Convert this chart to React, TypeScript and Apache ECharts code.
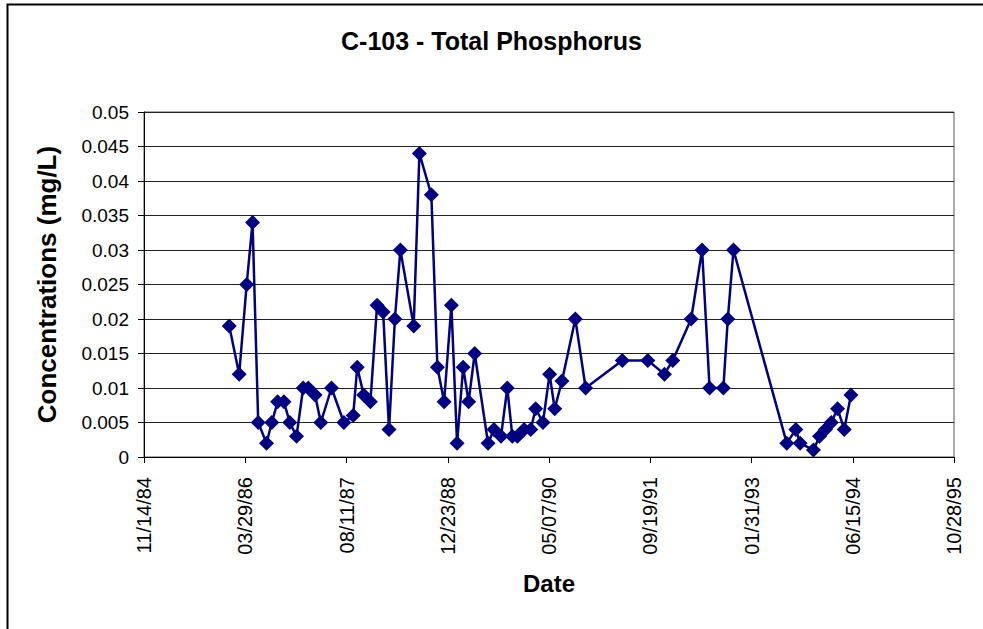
import React, { useEffect, useRef } from "react";
import * as echarts from "echarts";

const sampleDates: string[] = [
  "1986-01-09", "1986-02-27", "1986-04-05", "1986-05-04", "1986-06-01", "1986-07-12",
  "1986-08-07", "1986-09-05", "1986-10-06", "1986-11-04", "1986-12-07", "1987-01-09",
  "1987-02-03", "1987-03-09", "1987-04-06", "1987-05-29", "1987-07-29", "1987-09-13",
  "1987-10-03", "1987-11-04", "1987-12-07", "1988-01-09", "1988-02-08", "1988-03-08",
  "1988-04-06", "1988-05-03", "1988-07-08", "1988-08-05", "1988-10-03", "1988-11-02",
  "1988-12-05", "1989-01-10", "1989-02-07", "1989-03-09", "1989-04-05", "1989-05-05",
  "1989-07-10", "1989-08-08", "1989-09-12", "1989-10-13", "1989-11-07", "1989-12-02",
  "1990-01-04", "1990-02-06", "1990-03-02", "1990-04-07", "1990-05-10", "1990-06-04",
  "1990-07-10", "1990-09-14", "1990-11-04", "1991-05-04", "1991-09-07", "1991-11-28",
  "1992-01-08", "1992-04-08", "1992-06-01", "1992-07-08", "1992-09-14", "1992-10-06",
  "1992-11-03", "1993-07-24", "1993-09-07", "1993-09-28", "1993-12-03", "1994-01-02",
  "1994-01-31", "1994-03-01", "1994-04-01", "1994-05-04", "1994-06-06",
];

const phosphorus: number[] = [
  0.019, 0.012, 0.025, 0.034, 0.005, 0.002,
  0.005, 0.008, 0.008, 0.005, 0.003, 0.010,
  0.010, 0.009, 0.005, 0.010, 0.005, 0.006,
  0.013, 0.009, 0.008, 0.022, 0.021, 0.004,
  0.020, 0.030, 0.019, 0.044, 0.038, 0.013,
  0.008, 0.022, 0.002, 0.013, 0.008, 0.015,
  0.002, 0.004, 0.003, 0.010, 0.003, 0.003,
  0.004, 0.004, 0.007, 0.005, 0.012, 0.007,
  0.011, 0.020, 0.010, 0.014, 0.014, 0.012,
  0.014, 0.020, 0.030, 0.010, 0.010, 0.020,
  0.030, 0.002, 0.004, 0.002, 0.001, 0.003,
  0.004, 0.005, 0.007, 0.004, 0.009,
];

// Excel serial day numbers: 31000 = 11/14/84, step 500 days
const X_MIN = 31000;
const X_MAX = 35000;
const X_STEP = 500;
const Y_MIN = 0;
const Y_MAX = 0.05;
const Y_STEP = 0.005;

const toSerial = (s: string): number => {
  const [y, m, d] = s.split("-").map(Number);
  return Date.UTC(y, m - 1, d) / 86400000 + 25569;
};

const serialLabel = (v: number): string => {
  const dt = new Date((v - 25569) * 86400000);
  const mm = String(dt.getUTCMonth() + 1).padStart(2, "0");
  const dd = String(dt.getUTCDate()).padStart(2, "0");
  const yy = String(dt.getUTCFullYear() % 100).padStart(2, "0");
  return `${mm}/${dd}/${yy}`;
};

const FONT = "Arial, 'Liberation Sans', sans-serif";

export default function App() {
  const ref = useRef<HTMLDivElement>(null);

  useEffect(() => {
    if (!ref.current) return;
    const chart = echarts.init(ref.current, null, { renderer: "svg" });
    const data = sampleDates.map((d, i) => [toSerial(d), phosphorus[i]]);
    chart.setOption({
      animation: false,
      backgroundColor: "#ffffff",
      title: {
        text: "C-103 - Total Phosphorus",
        left: "center",
        top: 23,
        textStyle: { fontFamily: FONT, fontSize: 25, fontWeight: "bold", color: "#000" },
      },
      graphic: [
        {
          type: "rect",
          shape: { x: 7.5, y: 4.5, width: 1100, height: 800 },
          style: { fill: "none", stroke: "#000", lineWidth: 2 },
          silent: true,
          z: 100,
        },
      ],
      grid: {
        left: 144,
        right: 29,
        top: 112,
        bottom: 172,
        show: true,
        borderColor: "#555",
        borderWidth: 1,
        backgroundColor: "transparent",
      },
      xAxis: {
        type: "value",
        min: X_MIN,
        max: X_MAX,
        interval: X_STEP,
        name: "Date",
        nameLocation: "middle",
        nameGap: 114,
        nameTextStyle: { fontFamily: FONT, fontSize: 24, fontWeight: "bold", color: "#000" },
        axisLine: { show: true, onZero: false, lineStyle: { color: "#000", width: 1 } },
        axisTick: { show: true, length: 6, lineStyle: { color: "#000" } },
        splitLine: { show: false },
        axisLabel: {
          rotate: 90,
          margin: 20,
          fontFamily: FONT,
          fontSize: 20,
          color: "#000",
          formatter: (v: number) => serialLabel(v),
        },
      },
      yAxis: {
        type: "value",
        min: Y_MIN,
        max: Y_MAX,
        interval: Y_STEP,
        name: "Concentrations (mg/L)",
        nameLocation: "middle",
        nameGap: 84,
        nameTextStyle: { fontFamily: FONT, fontSize: 26, fontWeight: "bold", color: "#000" },
        axisLine: { show: true, lineStyle: { color: "#000", width: 1 } },
        axisTick: { show: true, length: 6, lineStyle: { color: "#000" } },
        splitLine: { show: true, lineStyle: { color: "#222", width: 1 } },
        axisLabel: {
          margin: 15,
          fontFamily: FONT,
          fontSize: 19,
          color: "#000",
          formatter: (v: number) => String(Number(v.toFixed(3))),
        },
      },
      series: [
        {
          type: "line",
          data,
          symbol: "diamond",
          symbolSize: 15,
          showAllSymbol: true,
          lineStyle: { color: "#000080", width: 2.5 },
          itemStyle: { color: "#000080" },
          z: 5,
        },
      ],
    });
    return () => chart.dispose();
  }, []);

  return (
    <div
      ref={ref}
      style={{ position: "absolute", left: 0, top: 0, width: 983, height: 629 }}
    />
  );
}
